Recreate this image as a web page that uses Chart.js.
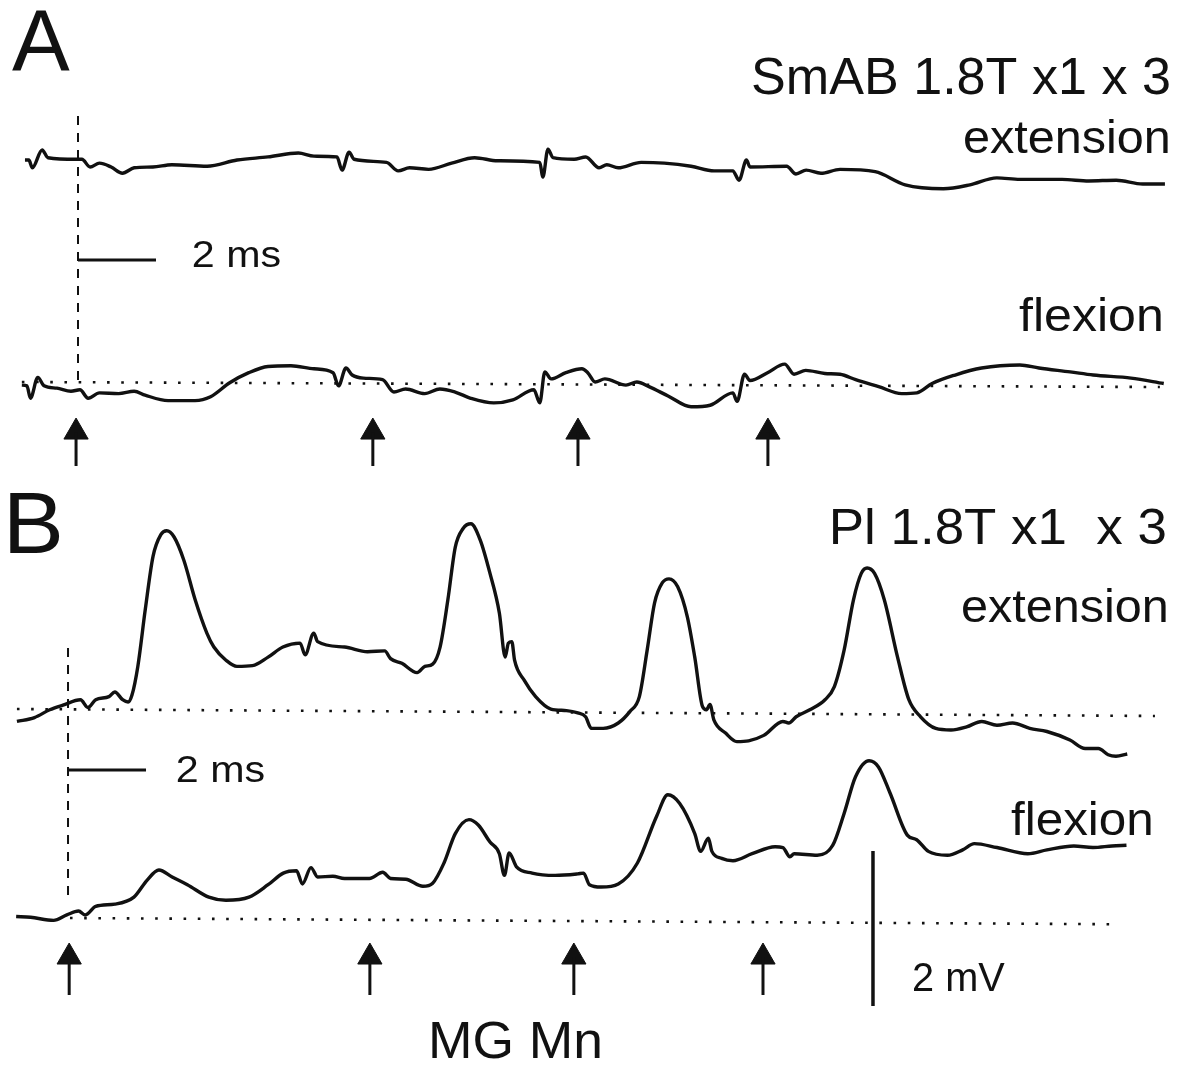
<!DOCTYPE html>
<html>
<head>
<meta charset="utf-8">
<title>MG Mn traces</title>
<script src="https://cdn.jsdelivr.net/npm/chart.js@4/dist/chart.umd.min.js"></script>
<style>
  html, body { margin: 0; padding: 0; background: #fff; }
  #wrap { width: 1181px; height: 1068px; }
</style>
</head>
<body>
<div id="wrap"><canvas id="traces" width="1181" height="1068"></canvas></div>
<script>
// ==========================
// DATA (time in ms from stimulus, voltage in mV from baseline)
// ==========================

// A: SmAB 1.8T, extension
const smabExtMs = [-1.36,-1.26,-1.17,-0.92,-0.77,-0.04,0.10,0.31,0.55,0.85,1.14,1.44,1.92,2.41,3.31,4.08,4.87,5.65,6.05,6.64,6.77,6.95,7.08,7.91,8.21,8.50,8.99,9.58,10.17,10.76,11.84,11.92,12.05,12.18,12.72,13.02,13.36,13.56,13.85,14.44,15.03,15.72,16.31,16.79,16.95,17.14,17.23,18.17,18.41,18.67,19.05,19.54,20.44,21.21,22.19,22.87,23.56,24.15,25.23,25.92,26.62,27.30,27.87];
const smabExtMv = [0,0,-0.10,0.13,0.03,0.01,0.01,-0.09,-0.04,-0.09,-0.17,-0.10,-0.09,-0.06,-0.08,0,0.04,0.09,0.05,0.04,-0.13,0.10,0.01,-0.03,-0.14,-0.10,-0.12,-0.04,0.03,-0.01,-0.03,-0.22,0.14,0.03,0.01,0.04,-0.10,-0.06,-0.10,-0.03,-0.04,-0.08,-0.14,-0.14,-0.26,0,-0.09,-0.08,-0.18,-0.13,-0.17,-0.12,-0.15,-0.32,-0.37,-0.32,-0.23,-0.25,-0.25,-0.27,-0.26,-0.31,-0.31];

// A: SmAB 1.8T, flexion
const smabFlexMs = [-1.44,-1.31,-1.22,-1.03,-0.87,-0.54,-0.18,0.05,0.26,0.55,1.04,1.44,1.72,2.31,3.00,3.40,3.89,4.38,4.87,5.46,6.05,6.54,6.68,6.87,7.03,7.32,7.81,8.10,8.40,8.89,9.28,9.67,10.07,10.66,11.15,11.69,11.84,11.97,12.13,12.51,12.92,13.07,13.26,13.51,14.05,14.33,14.64,15.13,15.72,16.21,16.79,16.90,17.09,17.23,17.68,18.12,18.36,18.66,19.15,19.54,19.94,20.53,21.12,21.51,21.90,22.49,23.17,24.15,24.64,25.44,26.03,27.00,27.84];
const smabFlexMv = [-0.04,-0.05,-0.21,0.06,-0.05,-0.08,-0.12,-0.10,-0.21,-0.14,-0.15,-0.12,-0.17,-0.24,-0.24,-0.19,-0.01,0.12,0.20,0.21,0.17,0.12,-0.05,0.18,0.09,0.05,0.03,-0.13,-0.09,-0.15,-0.09,-0.13,-0.21,-0.27,-0.23,-0.10,-0.27,0.13,0.04,0.12,0.17,0.12,0.00,0.04,-0.04,0.00,-0.06,-0.18,-0.32,-0.30,-0.14,-0.25,0.10,0.02,0.12,0.23,0.10,0.15,0.11,0.10,0.03,-0.06,-0.15,-0.14,-0.02,0.09,0.18,0.22,0.18,0.13,0.09,0.05,-0.02];
const smabFlexBaseMs = [-1.44, 27.74];
const smabFlexBaseMv = [0, -0.065];

// B: PI 1.8T, extension
const plExtMs = [-1.31,-0.86,-0.47,-0.13,0.32,0.51,0.71,1.05,1.20,1.40,1.54,1.64,1.79,1.98,2.18,2.38,2.53,2.72,2.97,3.26,3.56,3.74,4.05,4.33,4.73,5.13,5.51,5.95,6.08,6.30,6.40,7.09,7.68,8.12,8.27,8.56,8.95,9.15,9.35,9.54,9.74,9.93,10.13,10.33,10.57,10.82,11.06,11.21,11.29,11.38,11.45,11.70,11.99,12.38,12.78,13.07,13.27,13.42,13.72,14.11,14.41,14.65,14.85,15.04,15.24,15.41,15.63,15.88,16.07,16.27,16.37,16.46,16.56,16.86,17.15,17.45,17.84,18.33,18.48,18.67,19.02,19.41,19.65,19.90,20.14,20.34,20.49,20.68,20.93,21.27,21.56,21.86,22.25,22.64,23.04,23.43,23.82,24.22,24.66,25.10,25.69,26.08,26.42,26.67,26.87,27.16];
const plExtMv = [-0.16,-0.11,-0.01,0.05,0.12,0.02,0.12,0.16,0.22,0.12,0.09,0.18,0.55,1.28,1.97,2.25,2.30,2.22,1.92,1.41,0.98,0.80,0.63,0.55,0.56,0.67,0.80,0.85,0.70,0.98,0.87,0.80,0.74,0.75,0.65,0.59,0.47,0.55,0.58,0.80,1.41,2.09,2.33,2.39,2.18,1.75,1.24,0.67,0.85,0.87,0.63,0.37,0.16,0.00,-0.02,-0.05,-0.10,-0.25,-0.25,-0.18,-0.03,0.16,0.76,1.37,1.63,1.68,1.58,1.19,0.67,0.03,-0.01,0.06,-0.14,-0.31,-0.42,-0.41,-0.34,-0.16,-0.18,-0.10,-0.01,0.12,0.29,0.76,1.41,1.75,1.82,1.75,1.41,0.67,0.12,-0.10,-0.25,-0.27,-0.23,-0.16,-0.21,-0.18,-0.25,-0.29,-0.40,-0.51,-0.51,-0.59,-0.61,-0.58];
const plExtBaseMs = [-1.31, 27.87];
const plExtBaseMv = [0, -0.09];

// B: PI 1.8T, flexion
const plFlexMs = [-1.33,-0.96,-0.37,-0.03,0.27,0.44,0.71,1.20,1.69,2.03,2.33,2.67,3.06,3.61,4.05,4.64,5.13,5.52,5.86,6.01,6.23,6.40,6.79,7.09,7.73,8.07,8.27,8.66,9.10,9.35,9.64,9.93,10.28,10.52,10.82,11.06,11.19,11.31,11.50,11.90,12.49,13.07,13.22,13.37,13.67,14.11,14.60,15.09,15.38,15.68,16.07,16.22,16.42,16.51,16.76,17.05,17.54,18.13,18.33,18.51,18.62,19.21,19.61,19.90,20.19,20.54,20.78,21.08,21.52,21.76,22.06,22.55,22.94,23.24,23.82,24.61,25.10,25.79,26.28,26.77,27.14];
const plFlexMv = [0.02,0.01,-0.03,0.04,0.09,0.04,0.15,0.18,0.27,0.49,0.62,0.53,0.43,0.27,0.23,0.27,0.43,0.58,0.61,0.44,0.65,0.53,0.54,0.51,0.51,0.59,0.51,0.50,0.41,0.45,0.71,1.09,1.27,1.20,0.98,0.83,0.55,0.84,0.66,0.58,0.55,0.57,0.58,0.43,0.40,0.44,0.71,1.31,1.59,1.48,1.09,0.86,1.03,0.86,0.77,0.74,0.83,0.92,0.91,0.79,0.83,0.81,0.94,1.35,1.82,2.03,1.95,1.61,1.07,1.01,0.86,0.81,0.88,0.96,0.91,0.83,0.88,0.93,0.91,0.93,0.94];
const plFlexBaseMs = [0.05, 26.72];
const plFlexBaseMv = [0, -0.08];

// stimulus times (arrows)
const smabStimMs = [-0.05, 7.56, 12.82, 17.69];
const plStimMs = [0.03, 7.74, 12.97, 17.82];

// scale bars
const timeBarMs = [0, 2];
const voltBarMv = [0, 2];


// ==========================
// LAYOUT (where each row sits on the shared mV axis)
// ==========================
const rowA_ext = 11.716;
const rowA_flex = 8.852;
const rowB_ext = 4.632;
const rowB_flex = 1.935;

const stimLineA = [8.877, 12.335];
const stimLineB = [2.232, 5.458];
const arrowA = [7.768, 8.206];   // stem bottom, head centre
const arrowB = [0.942, 1.432];
const timeBarYA = 10.426;
const timeBarYB = 3.845;
const voltBarX = 20.64;
const voltBarY0 = 0.80;

const INK = '#111';

function pts(ts, vs, off) {
    let out = [];
    let n = Math.min(ts.length, vs.length);
    for (let i = 0; i < n; i++) out.push({ x: ts[i], y: off + vs[i] });
    return out;
}

function trace(ts, vs, off, axis) {
    return {
        data: pts(ts, vs, off), xAxisID: axis,
        borderColor: INK, borderWidth: 3.4, pointRadius: 0,
        cubicInterpolationMode: 'monotone', borderJoinStyle: 'round'
    };
}

function dotted(ts, vs, off, axis) {
    return {
        data: pts(ts, vs, off), xAxisID: axis,
        borderColor: INK, borderWidth: 2.6, pointRadius: 0,
        borderDash: [2.6, 11.6]
    };
}

function seg(x0, y0, x1, y1, axis, width, dash) {
    return {
        data: [{ x: x0, y: y0 }, { x: x1, y: y1 }], xAxisID: axis,
        borderColor: INK, borderWidth: width, pointRadius: 0,
        borderDash: dash || []
    };
}

let datasets = [
    trace(smabExtMs, smabExtMv, rowA_ext, 'xA'),
    trace(smabFlexMs, smabFlexMv, rowA_flex, 'xA'),
    dotted(smabFlexBaseMs, smabFlexBaseMv, rowA_flex, 'xA'),
    trace(plExtMs, plExtMv, rowB_ext, 'xB'),
    dotted(plExtBaseMs, plExtBaseMv, rowB_ext, 'xB'),
    trace(plFlexMs, plFlexMv, rowB_flex, 'xB'),
    dotted(plFlexBaseMs, plFlexBaseMv, rowB_flex, 'xB'),

    seg(0, stimLineA[0], 0, stimLineA[1], 'xA', 2, [9, 8]),
    seg(0, stimLineB[0], 0, stimLineB[1], 'xB', 2, [9, 8]),

    seg(timeBarMs[0], timeBarYA, timeBarMs[1], timeBarYA, 'xA', 3),
    seg(timeBarMs[0], timeBarYB, timeBarMs[1], timeBarYB, 'xB', 3),
    seg(voltBarX, voltBarY0 + voltBarMv[0], voltBarX, voltBarY0 + voltBarMv[1], 'xB', 3.5)
];

// arrows: stem + triangle head
smabStimMs.forEach(t => datasets.push(seg(t, arrowA[0], t, arrowA[1], 'xA', 3)));
plStimMs.forEach(t => datasets.push(seg(t, arrowB[0], t, arrowB[1], 'xB', 3)));
datasets.push({
    data: smabStimMs.map(t => ({ x: t, y: arrowA[1] })), xAxisID: 'xA',
    showLine: false, pointStyle: 'triangle', pointRadius: 14,
    pointBackgroundColor: INK, pointBorderColor: INK, pointBorderWidth: 1
});
datasets.push({
    data: plStimMs.map(t => ({ x: t, y: arrowB[1] })), xAxisID: 'xB',
    showLine: false, pointStyle: 'triangle', pointRadius: 14,
    pointBackgroundColor: INK, pointBorderColor: INK, pointBorderWidth: 1
});


// ==========================
// TEXT LABELS (pixel layout)
// ==========================
const labels = [
    { text: 'A', x: 12, y: 71, size: 88, w: 58, align: 'left' },
    { text: 'SmAB 1.8T x1 x 3', x: 1169, y: 94, size: 52, w: 416, align: 'right' },
    { text: 'extension', x: 1168, y: 153, size: 46, w: 204, align: 'right' },
    { text: '2 ms', x: 193, y: 267, size: 36, w: 87, align: 'left' },
    { text: 'flexion', x: 1161, y: 331, size: 46, w: 142, align: 'right' },
    { text: 'B', x: 10, y: 553, size: 88, w: 50, align: 'left' },
    { text: 'Pl 1.8T x1  x 3', x: 1165, y: 544, size: 50, w: 332, align: 'right' },
    { text: 'extension', x: 1166, y: 622, size: 46, w: 204, align: 'right' },
    { text: '2 ms', x: 177, y: 782, size: 36, w: 87, align: 'left' },
    { text: 'flexion', x: 1151, y: 835, size: 46, w: 140, align: 'right' },
    { text: '2 mV', x: 914, y: 991, size: 40, w: 91, align: 'left' },
    { text: 'MG Mn', x: 432, y: 1058, size: 52, w: 168, align: 'left' }
];

const textPlugin = {
    id: 'figText',
    afterDraw(chart) {
        const c = chart.ctx;
        labels.forEach(l => {
            c.save();
            c.font = l.size + 'px "Liberation Sans", Arial, sans-serif';
            c.fillStyle = INK;
            c.textAlign = 'left';
            c.textBaseline = 'alphabetic';
            const m = c.measureText(l.text);
            const ink = m.actualBoundingBoxLeft + m.actualBoundingBoxRight;
            const sx = l.w / ink;
            const left = l.align === 'right' ? l.x - l.w : l.x;
            c.translate(left, l.y);
            c.scale(sx, 1);
            c.fillText(l.text, m.actualBoundingBoxLeft, 0);
            c.restore();
        });
    }
};


// ==========================
// CHART
// ==========================
const ctx = document.getElementById('traces').getContext('2d');

const traceChart = new Chart(ctx, {
    type: 'line',
    data: { datasets: datasets },
    options: {
        responsive: false,
        animation: false,
        events: [],
        layout: { padding: 0, autoPadding: false },
        plugins: { legend: { display: false }, tooltip: { enabled: false } },
        scales: {
            xA: { type: 'linear', axis: 'x', display: false, min: -2.0, max: 28.282 },
            xB: { type: 'linear', axis: 'x', display: false, min: -1.744, max: 28.538 },
            y: { type: 'linear', display: false, min: 0, max: 13.781 }
        }
    },
    plugins: [textPlugin]
});
</script>
</body>
</html>
